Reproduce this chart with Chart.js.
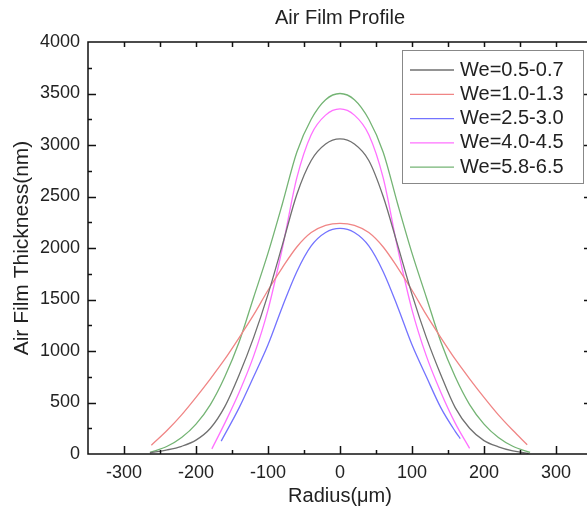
<!DOCTYPE html>
<html>
<head>
<meta charset="utf-8">
<script src="https://cdn.jsdelivr.net/npm/chart.js@4.4.1/dist/chart.umd.min.js"></script>
<style>
  html, body { margin: 0; padding: 0; background: #fff; overflow: hidden; }
  #wrap { width: 600px; height: 513px; }
</style>
</head>
<body>
<div id="wrap"><canvas id="chart-air-film" width="600" height="513"></canvas></div>
<script>
var seriesLabels = ['We=0.5-0.7', 'We=1.0-1.3', 'We=2.5-3.0', 'We=4.0-4.5', 'We=5.8-6.5'];
var seriesColors = ['#707070', '#f08585', '#7373ff', '#ff70ff', '#74b474'];

// radius (um) and thickness (nm)
var radiusBlack = [-264,-240,-220,-200,-180,-160,-140,-120,-100,-80,-60,-40,-20,0,20,40,60,80,100,120,140,160,180,200,220,240,262];
var thickBlack  = [12,40,75,135,250,460,770,1130,1550,2030,2520,2850,3010,3060,3010,2850,2500,2030,1550,1130,770,450,250,130,70,30,5];

var radiusRed = [-262,-240,-220,-200,-180,-160,-140,-120,-100,-80,-60,-40,-20,0,20,40,60,80,100,120,140,160,180,200,220,240,260];
var thickRed  = [85,230,380,550,730,920,1130,1350,1590,1810,2010,2150,2220,2240,2220,2150,2010,1810,1590,1350,1130,920,730,550,380,230,90];

var radiusBlue = [-165,-140,-120,-100,-80,-60,-40,-20,0,20,40,60,80,100,120,140,160,167];
var thickBlue  = [125,450,750,1060,1430,1770,2020,2150,2190,2150,2020,1770,1430,1060,750,450,220,150];

var radiusMagenta = [-178,-160,-140,-120,-100,-80,-60,-40,-20,0,20,40,60,80,100,120,140,160,180];
var thickMagenta  = [50,300,600,950,1400,2000,2680,3100,3290,3350,3290,3100,2680,2000,1400,950,600,300,55];

var radiusGreen = [-264,-240,-220,-200,-180,-160,-140,-120,-100,-80,-60,-40,-20,0,20,40,60,80,100,120,140,160,180,200,220,240,264];
var thickGreen  = [15,75,160,290,480,750,1090,1520,1950,2430,2930,3250,3440,3500,3440,3250,2930,2430,1950,1520,1090,750,480,290,160,75,15];

var xTickLabels = [-300, -200, -100, 0, 100, 200, 300];
var yTickLabels = [0, 500, 1000, 1500, 2000, 2500, 3000, 3500, 4000];

function toPoints(xs, ys) {
    var pts = [];
    for (var i = 0; i < xs.length; i++) pts.push({x: xs[i], y: ys[i]});
    return pts;
}

var allRadius = [radiusBlack, radiusRed, radiusBlue, radiusMagenta, radiusGreen];
var allThick = [thickBlack, thickRed, thickBlue, thickMagenta, thickGreen];

var datasets = [];
for (var i = 0; i < seriesLabels.length; i++) {
    datasets.push({
        label: seriesLabels[i],
        data: toPoints(allRadius[i], allThick[i]),
        borderColor: seriesColors[i],
        backgroundColor: seriesColors[i],
        borderWidth: 1.3,
        showLine: true,
        pointRadius: 0,
        cubicInterpolationMode: 'monotone',
        fill: false
    });
}

var FONT = 'Arial, "Liberation Sans", sans-serif';
var TXT = '#222';

// frame + inward ticks, like the origin style plot
var frameTicks = {
    id: 'frameTicks',
    afterDatasetsDraw: function(chart) {
        var c = chart.ctx, a = chart.chartArea;
        var xs = chart.scales.x, ys = chart.scales.y;
        c.save();
        c.strokeStyle = '#111';
        c.lineWidth = 1.5;
        c.strokeRect(a.left, a.top, a.right - a.left, a.bottom - a.top);
        c.beginPath();
        for (var v = -300; v <= 300; v += 50) {
            var px = Math.round(xs.getPixelForValue(v)) + 0.5;
            var major = (v % 100 === 0);
            c.moveTo(px, a.bottom);
            c.lineTo(px, a.bottom - (major ? 8 : 4));
            c.moveTo(px, a.top);
            c.lineTo(px, a.top + 5);
        }
        for (var w = 250; w < 4000; w += 250) {
            var py = Math.round(ys.getPixelForValue(w)) + 0.5;
            var maj = (w % 500 === 0);
            c.moveTo(a.left, py);
            c.lineTo(a.left + (maj ? 8 : 4), py);
            c.moveTo(a.right, py);
            c.lineTo(a.right - (maj ? 8 : 4), py);
        }
        c.stroke();
        c.restore();
    }
};

var boxLegend = {
    id: 'boxLegend',
    afterDraw: function(chart) {
        var c = chart.ctx;
        var bx = 402, by = 50, bw = 181, bh = 133;
        c.save();
        c.fillStyle = '#fff';
        c.fillRect(bx, by, bw, bh);
        c.strokeStyle = '#888';
        c.lineWidth = 1;
        c.strokeRect(bx + 0.5, by + 0.5, bw, bh);
        c.font = '20px ' + FONT;
        c.textBaseline = 'middle';
        c.fillStyle = TXT;
        chart.data.datasets.forEach(function(ds, k) {
            var y = by + 20 + k * 24.3;
            c.strokeStyle = ds.borderColor;
            c.lineWidth = 1.3;
            c.beginPath();
            c.moveTo(bx + 8, y);
            c.lineTo(bx + 52, y);
            c.stroke();
            c.fillText(ds.label, bx + 58, y);
        });
        c.restore();
    }
};

var ctx = document.getElementById('chart-air-film');
var airChart = new Chart(ctx, {
    type: 'scatter',
    data: { datasets: datasets },
    options: {
        responsive: false,
        animation: false,
        devicePixelRatio: 1,
        layout: { padding: { left: 0, right: 8, top: 0, bottom: 0 } },
        plugins: {
            legend: { display: false },
            tooltip: { enabled: false },
            title: {
                display: true,
                text: 'Air Film Profile',
                fullSize: false,
                color: TXT,
                font: { family: FONT, size: 20, weight: 'normal' },
                padding: { top: 6, bottom: 12 }
            }
        },
        scales: {
            x: {
                type: 'linear',
                min: -350,
                max: 350,
                grid: { display: false, drawTicks: false },
                border: { display: false },
                afterBuildTicks: function(scale) {
                    scale.ticks = xTickLabels.map(function(v) { return {value: v}; });
                },
                afterFit: function(scale) { scale.height = 59; },
                ticks: {
                    color: TXT,
                    padding: 8,
                    maxRotation: 0,
                    font: { family: FONT, size: 18 },
                    callback: function(v) { return String(v); }
                },
                title: {
                    display: true,
                    text: 'Radius(μm)',
                    color: TXT,
                    font: { family: FONT, size: 20 },
                    padding: { top: 0, bottom: 5 }
                }
            },
            y: {
                type: 'linear',
                min: 0,
                max: 4000,
                grid: { display: false, drawTicks: false },
                border: { display: false },
                afterBuildTicks: function(scale) {
                    scale.ticks = yTickLabels.map(function(v) { return {value: v}; });
                },
                afterFit: function(scale) { scale.width = 88; },
                ticks: {
                    color: TXT,
                    padding: 8,
                    font: { family: FONT, size: 18 },
                    callback: function(v) { return String(v); }
                },
                title: {
                    display: true,
                    text: 'Air Film Thickness(nm)',
                    color: TXT,
                    font: { family: FONT, size: 21 },
                    padding: { top: 10, bottom: 0 }
                }
            }
        }
    },
    plugins: [frameTicks, boxLegend]
});
</script>
</body>
</html>
